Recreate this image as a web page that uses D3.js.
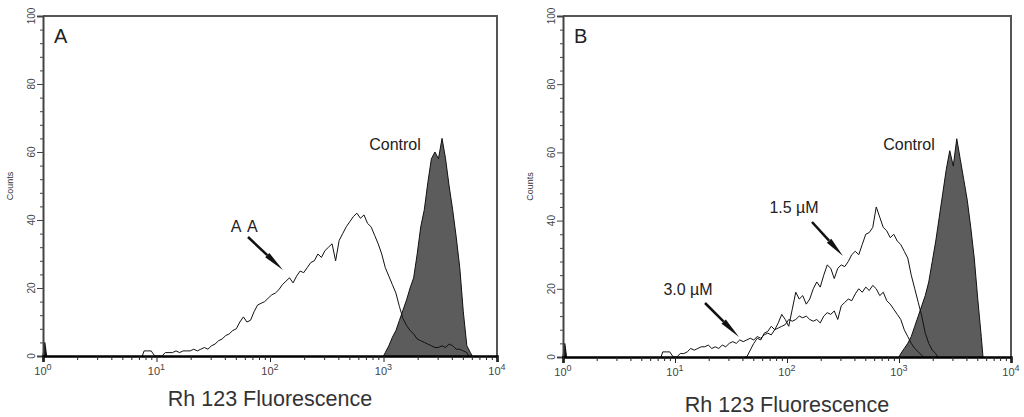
<!DOCTYPE html>
<html>
<head>
<meta charset="utf-8">
<script src="https://cdn.jsdelivr.net/npm/d3@7.9.0/dist/d3.min.js"></script>
<style>
  html, body { margin: 0; padding: 0; background: #fff; }
  svg { display: block; font-family: "Liberation Sans", Arial, sans-serif; }
</style>
</head>
<body>
<svg id="chart" width="1024" height="417"></svg>
<script>
// histogram channels: 32 bins per decade, bin i sits at 10^((i+0.5)/32)
const BINS_PER_DECADE = 32;

const xTicks = [1, 10, 100, 1000, 10000];
const yTicks = [0, 20, 40, 60, 80, 100];
const yMinorStep = 4;

// pile-up at the left edge
const edgeStart = 0;
const edgeCounts = [4];

// panel A
const aaStart = 28;
const aaCounts = [
  1.5, 1.5, 1.5, 0, 0, 0, 1, 1, 1, 1.5, 1, 1.5, 1.5, 1.5, 2, 1.5,
  2, 2.5, 2, 3, 3.5, 4.5, 5, 6, 6.5, 7.5, 8, 10, 11.5, 10, 10.5, 13,
  15, 15.5, 16, 17, 18, 18.5, 19.5, 21, 22, 23, 21.5, 23.5, 25, 24.5, 26, 27.5,
  28, 30, 29, 31, 32, 33, 28, 34, 36, 38, 39.5, 41, 42, 40.5, 41.5, 39,
  38, 35.5, 33, 30, 26, 23.5, 21, 18.5, 14.5, 11, 9, 7.5, 6.5, 5, 4.5, 4,
  3.5, 3, 2.5, 2.5, 3, 2.5, 3.5, 3, 2, 2, 1.5, 1
];
const controlAStart = 96;
const controlACounts = [
  1, 3, 5.5, 7.5, 10.5, 13.5, 16.5, 20, 23, 30, 38, 43, 51, 58, 60, 58,
  64, 58, 50, 43, 35, 26, 13, 3, 1
];

// panel B
const lowDoseStart = 52;
const lowDoseCounts = [
  0, 2, 4, 5.5, 5, 7, 7.5, 9, 8, 10, 12.5, 11, 9, 14, 19, 17,
  18, 15.5, 17, 20, 22, 20.5, 24, 27, 26, 23, 26, 27, 26.5, 28, 30, 31,
  30, 33, 36, 36.5, 38, 44, 41, 38, 37, 35, 36, 34, 33, 31, 29, 24,
  20, 16, 12, 7, 4, 2, 1
];
const highDoseStart = 28;
const highDoseCounts = [
  1.5, 1.5, 1.5, 0, 0, 1, 1, 1.5, 2.5, 2, 2.5, 3, 3, 3.5, 2.5, 3,
  2.5, 3.5, 3, 4, 4.5, 4, 5, 4.5, 5, 5.5, 5, 6, 5.5, 6.5, 7, 6.5,
  8, 8.5, 9, 9.5, 11, 10.5, 11, 12, 11.5, 12, 11, 10.5, 11, 10, 12, 13,
  12.5, 13.5, 11, 15, 16, 17, 16.5, 18.5, 20, 19, 20.5, 19.5, 21, 20, 18, 19,
  16.5, 15.5, 14, 12.5, 11, 8, 6, 4, 2.5, 1.5, 0.5
];
const controlBStart = 96;
const controlBCounts = [
  1, 2.5, 4, 6, 9, 12, 15, 18, 22, 28, 34, 41, 48, 55, 60.5, 56,
  64, 58, 52, 46, 38, 29, 17, 6
];

const panels = [
  {
    letter: 'A', left: 43, right: 497, top: 16, bottom: 356, titleY: 406,
    control: [controlAStart, controlACounts],
    lines: [[aaStart, aaCounts]],
    controlLabel: [395, 150],
    notes: [{ text: 'A A', x: 245, y: 232, from: [248, 237], to: [283, 270] }]
  },
  {
    letter: 'B', left: 563, right: 1011, top: 16, bottom: 357, titleY: 412,
    control: [controlBStart, controlBCounts],
    lines: [[lowDoseStart, lowDoseCounts], [highDoseStart, highDoseCounts]],
    controlLabel: [909, 150],
    notes: [
      { text: '1.5 µM', x: 794, y: 213, from: [812, 222], to: [843, 256] },
      { text: '3.0 µM', x: 688, y: 295, from: [705, 303], to: [739, 337] }
    ]
  }
];

function toPoints(start, counts) {
  const pts = [[10 ** (start / BINS_PER_DECADE), 0]];
  counts.forEach((c, k) => pts.push([10 ** ((start + k + 0.5) / BINS_PER_DECADE), c]));
  pts.push([10 ** ((start + counts.length) / BINS_PER_DECADE), 0]);
  return pts;
}

function minorTicks() {
  const out = [];
  for (let d = 1; d < 10000; d *= 10) {
    for (let k = 2; k <= 9; k++) out.push(d * k);
  }
  return out;
}

const svg = d3.select('#chart');

panels.forEach((p) => {
  const x = d3.scaleLog().domain([1, 10000]).range([p.left, p.right]);
  const y = d3.scaleLinear().domain([0, 100]).range([p.bottom, p.top]);
  const g = svg.append('g');

  const line = d3.line().x(d => x(d[0])).y(d => y(d[1]));
  const area = d3.area().x(d => x(d[0])).y0(y(0)).y1(d => y(d[1]));

  // frame top + right
  g.append('path')
    .attr('d', `M${p.left},${p.top}H${p.right}V${p.bottom}`)
    .attr('fill', 'none').attr('stroke', '#555').attr('stroke-width', 2);

  // control histogram, filled grey
  const ctrl = toPoints(p.control[0], p.control[1]);
  g.append('path').attr('d', area(ctrl)).attr('fill', '#5c5c5c');
  g.append('path').attr('d', line(ctrl)).attr('fill', 'none')
    .attr('stroke', '#111').attr('stroke-width', 1);

  // treated histograms, open
  p.lines.forEach(([s, c]) => {
    g.append('path').attr('d', line(toPoints(s, c))).attr('fill', 'none')
      .attr('stroke', '#111').attr('stroke-width', 1);
  });
  g.append('path').attr('d', line(toPoints(edgeStart, edgeCounts))).attr('fill', '#111')
    .attr('stroke', '#111').attr('stroke-width', 1.2);

  // y axis
  const yAxis = g.append('g').attr('transform', `translate(${p.left},0)`)
    .call(d3.axisLeft(y).tickValues(yTicks).tickSize(6).tickFormat(''));
  yAxis.select('.domain').attr('stroke', '#444').attr('stroke-width', 2);
  yAxis.selectAll('.tick line').attr('stroke', '#444');
  g.append('g').attr('transform', `translate(${p.left},0)`)
    .call(d3.axisLeft(y).tickValues(d3.range(0, 101, yMinorStep).filter(v => v % 20))
      .tickSize(3).tickFormat(''))
    .call(a => a.select('.domain').remove())
    .selectAll('.tick line').attr('stroke', '#444');
  g.selectAll('.ylab').data(yTicks).join('text')
    .attr('transform', d => `translate(${p.left - 8},${y(d)}) rotate(-90)`)
    .attr('text-anchor', 'middle').attr('font-size', 10).attr('fill', '#444')
    .text(d => d);
  g.append('text')
    .attr('transform', `translate(${p.left - 30},${(p.top + p.bottom) / 2}) rotate(-90)`)
    .attr('text-anchor', 'middle').attr('font-size', 9).attr('fill', '#333')
    .text('Counts');

  // x axis
  const xAxis = g.append('g').attr('transform', `translate(0,${p.bottom})`)
    .call(d3.axisBottom(x).tickValues(xTicks).tickSize(6).tickFormat(''));
  xAxis.select('.domain').attr('stroke', '#000').attr('stroke-width', 2.5);
  xAxis.selectAll('.tick line').attr('stroke', '#222');
  g.append('g').attr('transform', `translate(0,${p.bottom})`)
    .call(d3.axisBottom(x).tickValues(minorTicks()).tickSize(4).tickFormat(''))
    .call(a => a.select('.domain').remove())
    .selectAll('.tick line').attr('stroke', '#222');
  const xl = g.selectAll('.xlab').data(xTicks).join('text')
    .attr('x', d => x(d)).attr('y', p.bottom + 19)
    .attr('text-anchor', 'middle').attr('font-size', 11).attr('fill', '#444');
  xl.append('tspan').text('10');
  xl.append('tspan').attr('dy', -5).attr('font-size', 9).text(d => Math.round(Math.log10(d)));

  g.append('text')
    .attr('x', (p.left + p.right) / 2).attr('y', p.titleY)
    .attr('text-anchor', 'middle').attr('font-size', 21.5).attr('fill', '#333')
    .text('Rh 123 Fluorescence');

  // panel letter
  g.append('text').attr('x', p.left + 11).attr('y', 43)
    .attr('font-size', 20).attr('fill', '#222').text(p.letter);

  g.append('text').attr('x', p.controlLabel[0]).attr('y', p.controlLabel[1])
    .attr('text-anchor', 'middle').attr('font-size', 16).attr('fill', '#222')
    .text('Control');

  // annotations with tapered arrows
  p.notes.forEach((n) => {
    g.append('text').attr('x', n.x).attr('y', n.y)
      .attr('text-anchor', 'middle').attr('font-size', 16).attr('fill', '#222')
      .attr('letter-spacing', n.text === 'A A' ? 1.5 : 0)
      .text(n.text);
    const [x0, y0] = n.from, [x1, y1] = n.to;
    const dx = x1 - x0, dy = y1 - y0, len = Math.hypot(dx, dy);
    const ux = dx / len, uy = dy / len, nx = -uy, ny = ux;
    const bx = x0 + dx * 0.55, by = y0 + dy * 0.55;
    g.append('line').attr('x1', x0).attr('y1', y0).attr('x2', bx).attr('y2', by)
      .attr('stroke', '#111').attr('stroke-width', 2.5);
    g.append('path')
      .attr('d', `M${bx + nx * 3},${by + ny * 3}L${x1},${y1}L${bx - nx * 3},${by - ny * 3}Z`)
      .attr('fill', '#111');
  });
});
</script>
</body>
</html>
